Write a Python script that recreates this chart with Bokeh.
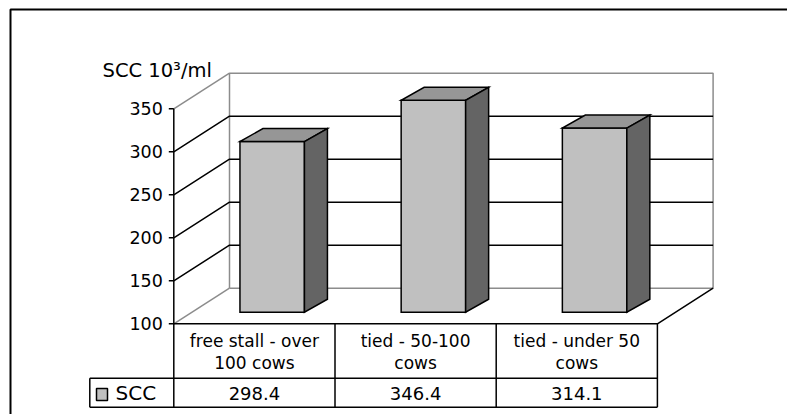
from bokeh.plotting import figure
from bokeh.models import ColumnDataSource, Range1d
from bokeh.core.properties import value
from bokeh.embed import file_html
from bokeh.resources import INLINE

# ---------------- data ----------------
categories = ["free stall - over 100 cows", "tied - 50-100 cows", "tied - under 50 cows"]
category_line1 = ["free stall - over", "tied - 50-100", "tied - under 50"]
category_line2 = ["100 cows", "cows", "cows"]
series_name = "SCC"
scc = [298.4, 346.4, 314.1]
value_labels = ["298.4", "346.4", "314.1"]
y_ticks = [100, 150, 200, 250, 300, 350]
y_tick_labels = ["100", "150", "200", "250", "300", "350"]
axis_title = "SCC 10\u00b3/ml"

# ---------------- layout (image pixel constants) ----------------
W, H = 787, 414
OFF = 0
X0 = 173.3      # pixel x of front value axis
CW = 161.2      # pixel width of one category
Y100 = 323.3    # pixel y of value 100 on front plane
K = 0.86        # pixels per value unit
YMIN, YMAX = 100, 350
DEPTH = (55.7, 35.6)      # back wall offset (px)
BAR_FRONT = (17.8, 11.6)  # bar front face offset (px)
BAR_BACK = (40.8, 24.6)   # bar back face offset (px)
BAR_HALF = 0.2            # half bar width in category units
ROW_DIV = 377.7
TABLE_BOTTOM = 406.7
LEGEND_LEFT = 89.3
FONT = "DejaVu Sans"
GRAY = "#8c8c8c"


def xd(px):
    return (px - X0) / CW


def yd(py):
    return YMIN + (Y100 - py) / K


n = len(categories)
ddx, ddy = DEPTH[0] / CW, DEPTH[1] / K
fx, fy = BAR_FRONT[0] / CW, BAR_FRONT[1] / K
bx, by = BAR_BACK[0] / CW, BAR_BACK[1] / K

p = figure(width=W, height=H, x_range=Range1d(xd(OFF), xd(OFF + W)),
           y_range=Range1d(yd(OFF + H), yd(OFF)), output_backend="svg",
           toolbar_location=None, min_border=0,
           x_axis_location=None, y_axis_location=None)
p.grid.visible = False
p.outline_line_color = None
p.background_fill_color = "white"
p.border_fill_color = "white"

# outer frame (left and top edges visible)
p.line([xd(10), xd(10), xd(900)], [yd(500), yd(9), yd(9)], line_color="black", line_width=2)

# back wall & side wall edges (gray)
p.multi_line(
    xs=[[ddx, ddx, n + ddx, n + ddx, ddx], [0, ddx], [0, ddx]],
    ys=[[YMIN + ddy, YMAX + ddy, YMAX + ddy, YMIN + ddy, YMIN + ddy],
        [YMAX, YMAX + ddy], [YMIN, YMIN + ddy]],
    line_color=GRAY, line_width=1.5)

# gridlines (black)
inner = [t for t in y_ticks if YMIN < t < YMAX]
p.multi_line(xs=[[0, ddx, n + ddx] for t in inner],
             ys=[[t, t + ddy, t + ddy] for t in inner],
             line_color="black", line_width=1.5)

# floor front-right diagonal and front floor edge
p.multi_line(xs=[[0, n, n + ddx]], ys=[[YMIN, YMIN, YMIN + ddy]],
             line_color="black", line_width=1.5)

# value axis line and ticks
p.line([0, 0], [YMAX, yd(TABLE_BOTTOM)], line_color="black", line_width=1.5)
p.segment(x0=[xd(X0 - 5)] * len(y_ticks), y0=y_ticks, x1=[0] * len(y_ticks), y1=y_ticks,
          line_color="black", line_width=1.5)
p.text(x=[xd(X0 - 11)] * len(y_ticks), y=y_ticks, text=y_tick_labels,
       text_align="right", text_baseline="middle", text_font=value(FONT),
       text_font_size="17.5px", text_color="black")

# axis title
p.text(x=[xd(102)], y=[yd(70)], text=[axis_title], text_align="left",
       text_baseline="alphabetic", text_font=value(FONT), text_font_size="19.5px",
       text_color="black")

# bars
centers = [i + 0.5 for i in range(n)]
left = [c - BAR_HALF + fx for c in centers]
right = [c + BAR_HALF + fx for c in centers]
top_f = [v + fy for v in scc]
sx = bx - fx
p.quad(left=left, right=right, bottom=[YMIN + fy] * n, top=top_f,
       fill_color="#c0c0c0", line_color="black", line_width=1.5, line_join="miter")
p.patches(xs=[[l, r, r + sx, l + sx] for l, r in zip(left, right)],
          ys=[[v + fy, v + fy, v + by, v + by] for v in scc],
          fill_color="#969696", line_color="black", line_width=1.5, line_join="miter")
p.patches(xs=[[r, r, r + sx, r + sx] for r in right],
          ys=[[YMIN + fy, v + fy, v + by, YMIN + by] for v in scc],
          fill_color="#646464", line_color="black", line_width=1.5, line_join="miter")

# data table
tb, rd = yd(TABLE_BOTTOM), yd(ROW_DIV)
p.multi_line(
    xs=[[i, i] for i in range(1, n + 1)] + [[xd(LEGEND_LEFT), xd(LEGEND_LEFT)],
                                          [xd(LEGEND_LEFT), n], [xd(LEGEND_LEFT), n]],
    ys=[[YMIN, tb] for i in range(1, n + 1)] + [[rd, tb], [rd, rd], [tb, tb]],
    line_color="black", line_width=1.5)

p.text(x=centers, y=[yd(340.5)] * n, text=category_line1, text_align="center",
       text_baseline="middle", text_font=value(FONT), text_font_size="17px", text_color="black")
p.text(x=centers, y=[yd(362.5)] * n, text=category_line2, text_align="center",
       text_baseline="middle", text_font=value(FONT), text_font_size="17px", text_color="black")
p.text(x=centers, y=[yd(392.5)] * n, text=value_labels, text_align="center",
       text_baseline="middle", text_font=value(FONT), text_font_size="18px", text_color="black")

# legend key + series name
p.quad(left=[xd(96)], right=[xd(107)], bottom=[yd(400)], top=[yd(388)],
       fill_color="#c0c0c0", line_color="black", line_width=1.5)
p.text(x=[xd(115)], y=[yd(392.5)], text=[series_name], text_align="left",
       text_baseline="middle", text_font=value(FONT), text_font_size="20px", text_color="black")

open("out.html", "w").write(file_html(p, INLINE))
